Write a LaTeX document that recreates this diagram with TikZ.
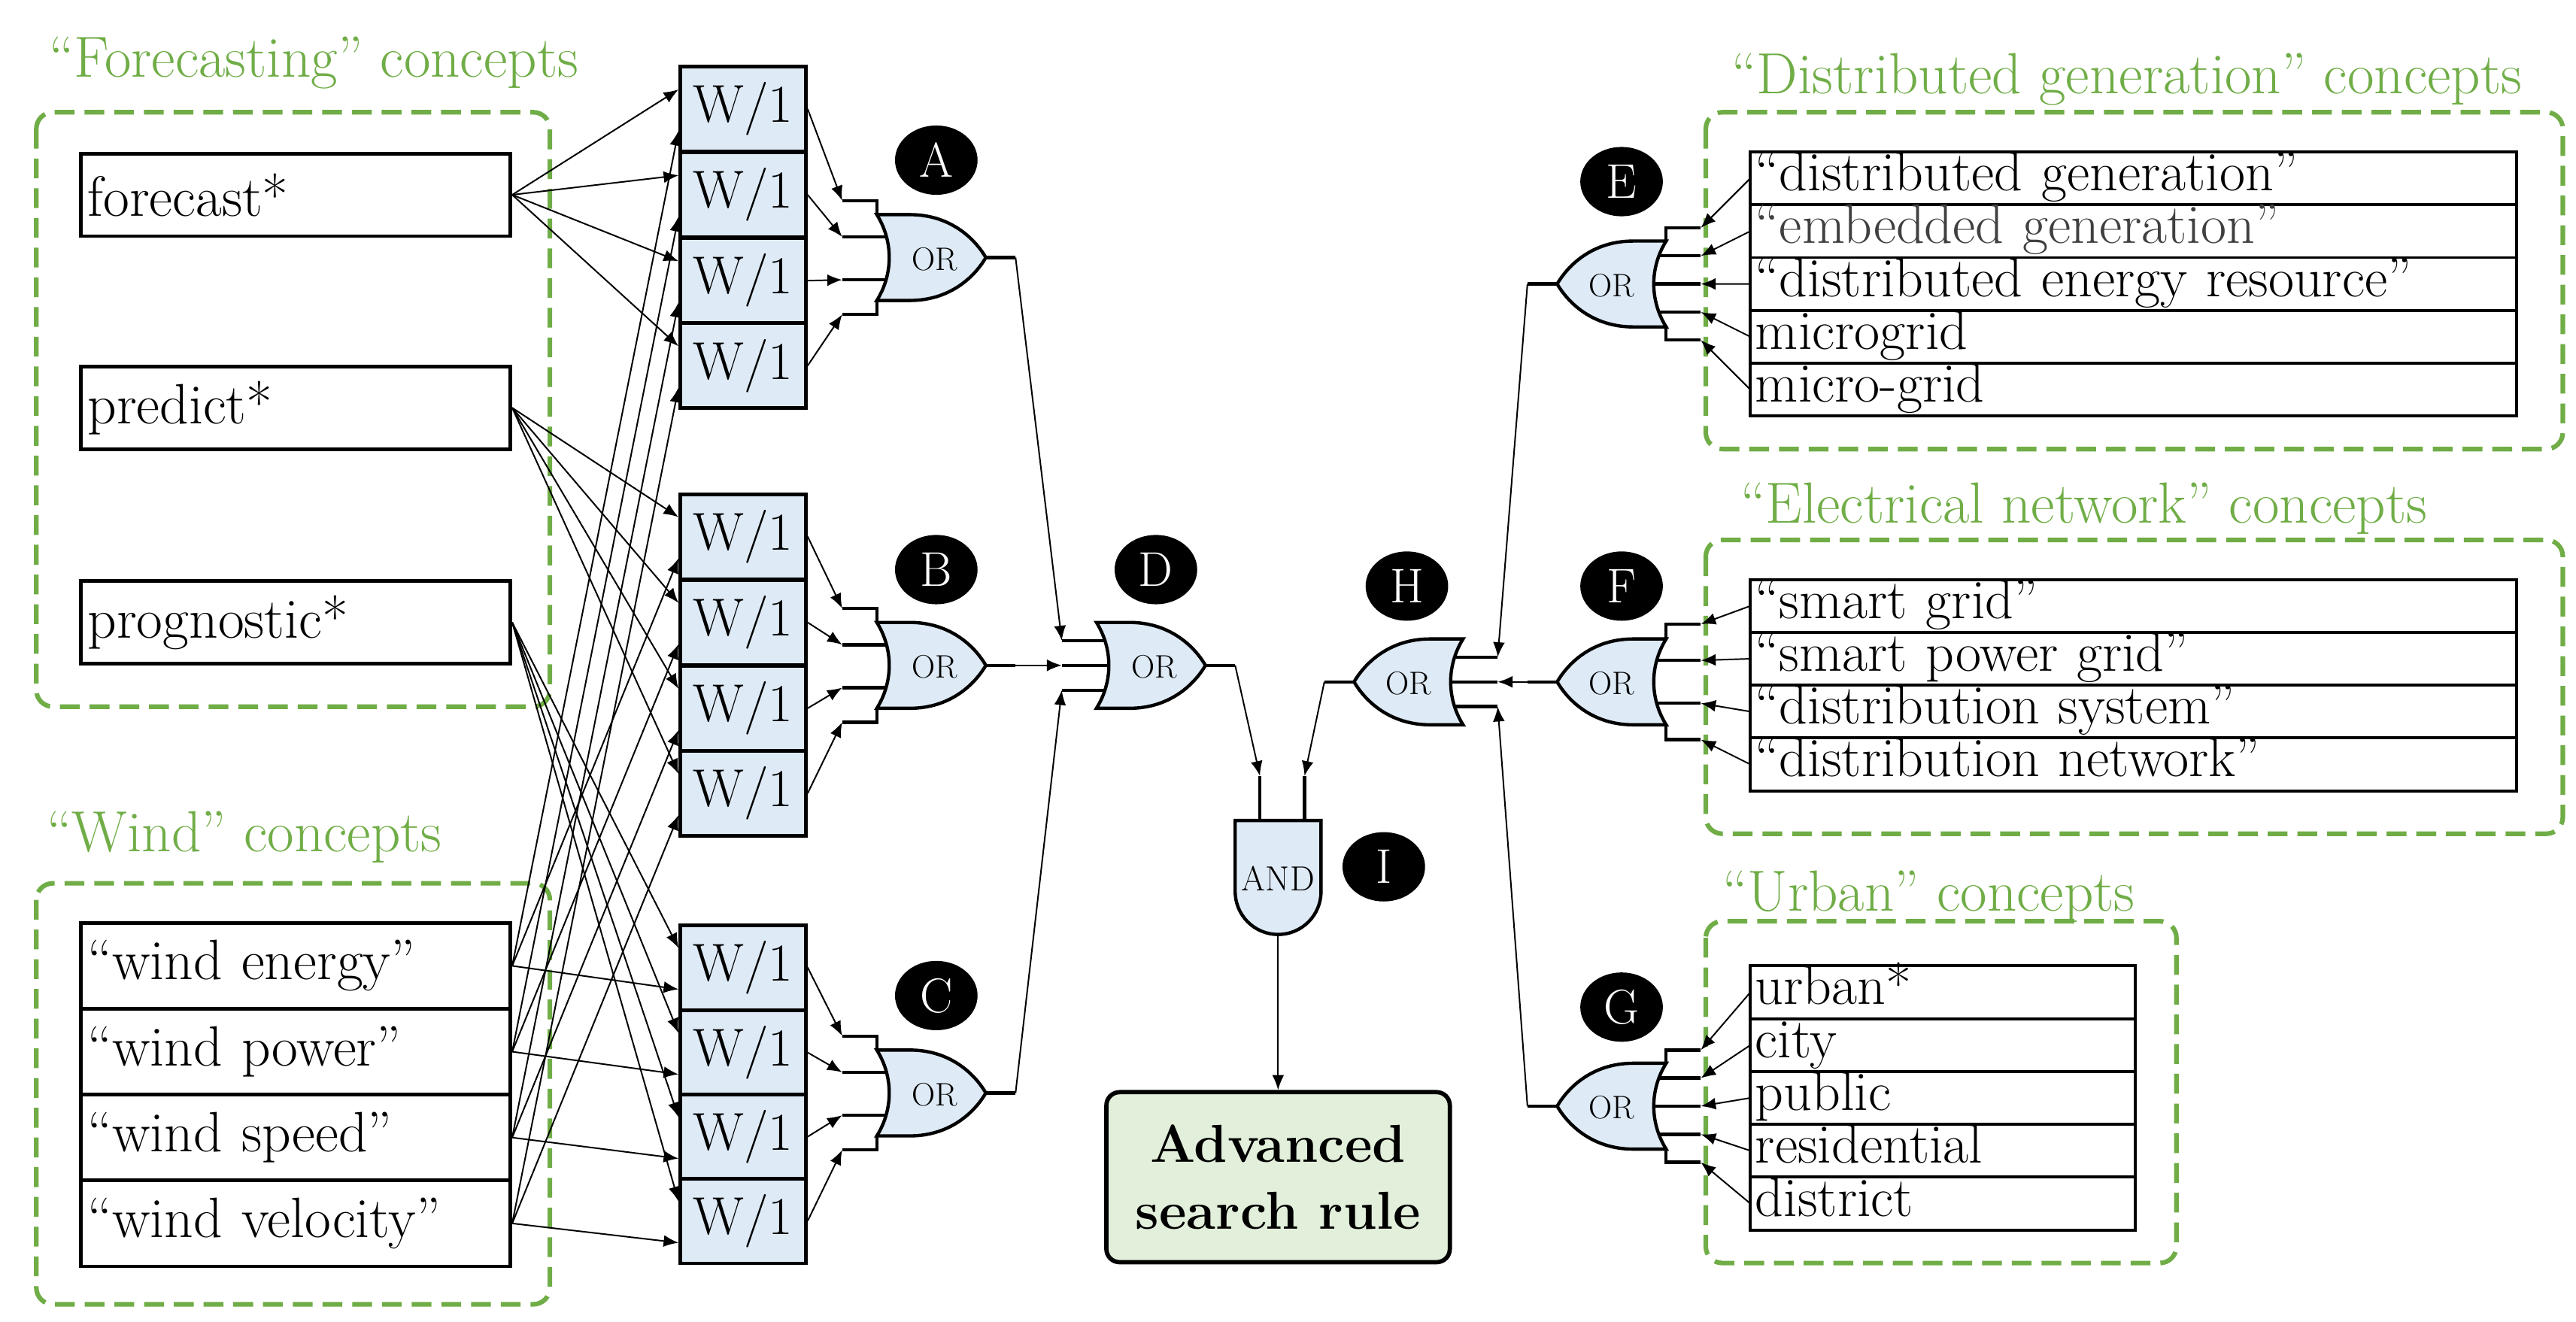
\documentclass[tikz,border=0pt]{standalone}
\usetikzlibrary{arrows.meta,calc,shapes.geometric}
\definecolor{grn}{HTML}{70AD47}
\definecolor{gfill}{HTML}{DEEAF6}
\definecolor{afill}{HTML}{E2EFDA}
\tikzset{
  gate/.style={draw=black,fill=gfill,line width=1mm},
  stub/.style={line width=1mm},
  conn/.style={line width=0.45mm,-{Latex[length=4.5mm,width=3.6mm]}},
  term/.style={draw,line width=1.1mm,minimum width=13cm,inner xsep=0.15cm,inner ysep=0pt,text width=12.6cm,align=left,font=\fontsize{49}{54}\selectfont},
  item/.style={draw,line width=0.9mm,minimum height=1.6cm,inner xsep=0.12cm,inner ysep=0pt,text height=1.1cm,text depth=0.35cm,outer sep=0pt,align=left,anchor=north west,font=\fontsize{48}{52}\selectfont},
  wbox/.style={draw,line width=1.1mm,fill=gfill,minimum width=3.8cm,minimum height=2.57cm,inner sep=0pt,font=\fontsize{46}{50}\selectfont},
  grp/.style={draw=grn,line width=1.4mm,dash pattern=on 6mm off 3mm,rounded corners=5mm},
  glbl/.style={text=grn,font=\fontsize{50}{56}\selectfont},
  tag/.style={ellipse,fill=black,text=white,minimum width=2.5cm,minimum height=2.1cm,inner sep=0pt,font=\fontsize{42}{46}\selectfont},
  orlbl/.style={font=\fontsize{28}{30}\selectfont},
}
\newcommand\orgate[5]{%
\begin{scope}[shift={(#2,#3)}]
\begin{scope}[xscale=#4]
\draw[gate] (-34,-26) -- (-14,-26) .. controls (10,-26) and (25,-12) .. (32,0) .. controls (25,12) and (10,26) .. (-14,26) -- (-34,26) .. controls (-24,10) and (-24,-10) .. (-34,-26) -- cycle;
\draw[stub] (32,0) -- (50,0);
\coordinate (#1-out) at (50,0);
\foreach \o [count=\i] in {#5}{
  \pgfmathsetmacro\ab{abs(\o)}
  \ifdim\ab pt>26pt
    \pgfmathsetmacro\sg{\o>0 ? 26 : -26}
    \draw[stub] (-55,\o) -- (-34,\o) -- (-34,\sg);
  \else
    \pgfmathsetmacro\xb{-34+7.5*(1-(\o/26)^2)}
    \draw[stub] (-55,\o) -- (\xb,\o);
  \fi
  \coordinate (#1-\i) at (-55,\o);
}
\end{scope}
\node[orlbl] at (1,1) {OR};
\end{scope}}
\begin{document}
\begin{tikzpicture}[x=0.05cm,y=-0.05cm]
\useasboundingbox (0,0) rectangle (1560,800.3);
% groups
\draw[grp] (22,68) rectangle (333,428);
\node[glbl] at (190,38) {``Forecasting'' concepts};
\draw[grp] (22,535) rectangle (333,790);
\node[glbl] at (148,507) {``Wind'' concepts};
\draw[grp] (1033,68) rectangle (1552,272);
\node[glbl] at (1288,48) {``Distributed generation'' concepts};
\draw[grp] (1033,327) rectangle (1552,505);
\node[glbl] at (1262,308) {``Electrical network'' concepts};
\draw[grp] (1033,558) rectangle (1318,765);
\node[glbl] at (1168,543) {``Urban'' concepts};
% left terms
\node[term,minimum height=2.5cm,anchor=west] (f1) at (48,118) {forecast*};
\node[term,minimum height=2.5cm,anchor=west] (f2) at (48,247) {predict*};
\node[term,minimum height=2.5cm,anchor=west] (f3) at (48,377) {prognostic*};
\node[term,minimum height=2.6cm,anchor=west] (w1) at (48,585) {``wind energy''};
\node[term,minimum height=2.6cm,anchor=west] (w2) at (48,637) {``wind power''};
\node[term,minimum height=2.6cm,anchor=west] (w3) at (48,689) {``wind speed''};
\node[term,minimum height=2.6cm,anchor=west] (w4) at (48,741) {``wind velocity''};
% W/1 boxes
\foreach \g/\ys in {a/{66,118,170,221.5},b/{325,377,429,480.5},c/{586,637.5,688.5,739.5}}{
  \foreach \y [count=\k] in \ys { \node[wbox] (\g\k) at (450,\y) {W/1}; }
}
% OR gates
\orgate{A}{565}{156}{1}{-34.5,-12.5,13.5,34.5}
\orgate{B}{565}{403}{1}{-34.5,-12.5,13.5,34.5}
\orgate{C}{565}{662}{1}{-34.5,-12.5,13.5,34.5}
\orgate{D}{698}{403}{1}{-15,0,15}
\orgate{H}{852}{413}{-1}{-15,0,15}
\orgate{E}{975}{172}{-1}{-34,-17,0,17,34}
\orgate{F}{975}{413}{-1}{-35,-13,13,35}
\orgate{G}{975}{670}{-1}{-34,-17,0,17,34}
% AND gate
\draw[gate] (748,497) -- (800,497) -- (800,540) arc[start angle=0,end angle=-180,x radius=26,y radius=-26] -- cycle;
\node[font=\fontsize{30}{32}\selectfont] (andg) at (774,532) {AND};
\coordinate (I1) at (763,470);
\coordinate (I2) at (790,470);
\coordinate (Iout) at (774,566);
\draw[stub] (I1) -- (763,497);
\draw[stub] (I2) -- (790,497);
\node[draw,line width=1.3mm,fill=afill,rounded corners=4mm,minimum width=10.4cm,minimum height=5.15cm,align=center,font=\fontsize{46}{58}\selectfont\bfseries] (adv) at (774,713) {Advanced\\search rule};
% tags
\foreach \t/\x/\y in {A/567/97,B/567/345,C/567/603,D/700/345,H/852/355,I/838/525,E/982/110,F/982/355,G/982/610}
  \node[tag] (tag\t) at (\x,\y) {\t};
% right items
\foreach \t [count=\k] in {``distributed generation'',{\color[HTML]{404040}``embedded generation''},``distributed energy resource'',microgrid,micro-grid}
  \node[item,minimum width=23.2cm,text width=22.9cm] (e\k) at (1060,{92+32*(\k-1)}) {\t};
\foreach \t [count=\k] in {``smart grid'',``smart power grid'',``distribution system'',``distribution network''}
  \node[item,minimum width=23.2cm,text width=22.9cm] (n\k) at (1060,{351+32*(\k-1)}) {\t};
\foreach \t [count=\k] in {urban*,city,public,residential,district}
  \node[item,minimum width=11.65cm,text width=11.35cm] (u\k) at (1060,{585+32*(\k-1)}) {\t};
% connectors left
\foreach \k in {1,...,4}{
  \draw[conn] (f1.east) -- ($(a\k.north west)+(0,15)$);
  \draw[conn] (f2.east) -- ($(b\k.north west)+(0,15)$);
  \draw[conn] (f3.east) -- ($(c\k.north west)+(0,15)$);
  \draw[conn] (w\k.east) -- ($(a\k.north west)+(0,40)$);
  \draw[conn] (w\k.east) -- ($(b\k.north west)+(0,40)$);
  \draw[conn] (w\k.east) -- ($(c\k.north west)+(0,40)$);
  \draw[conn] (a\k.east) -- (A-\k);
  \draw[conn] (b\k.east) -- (B-\k);
  \draw[conn] (c\k.east) -- (C-\k);
  \draw[conn] (n\k.west) -- (F-\k);
}
\foreach \k in {1,...,5}{
  \draw[conn] (e\k.west) -- (E-\k);
  \draw[conn] (u\k.west) -- (G-\k);
}
\draw[conn] (A-out) -- (D-1);
\draw[conn] (B-out) -- (D-2);
\draw[conn] (C-out) -- (D-3);
\draw[conn] (E-out) -- (H-1);
\draw[conn] (F-out) -- (H-2);
\draw[conn] (G-out) -- (H-3);
\draw[conn] (D-out) -- (I1);
\draw[conn] (H-out) -- (I2);
\draw[conn] (Iout) -- (adv.north);
\end{tikzpicture}
\end{document}
